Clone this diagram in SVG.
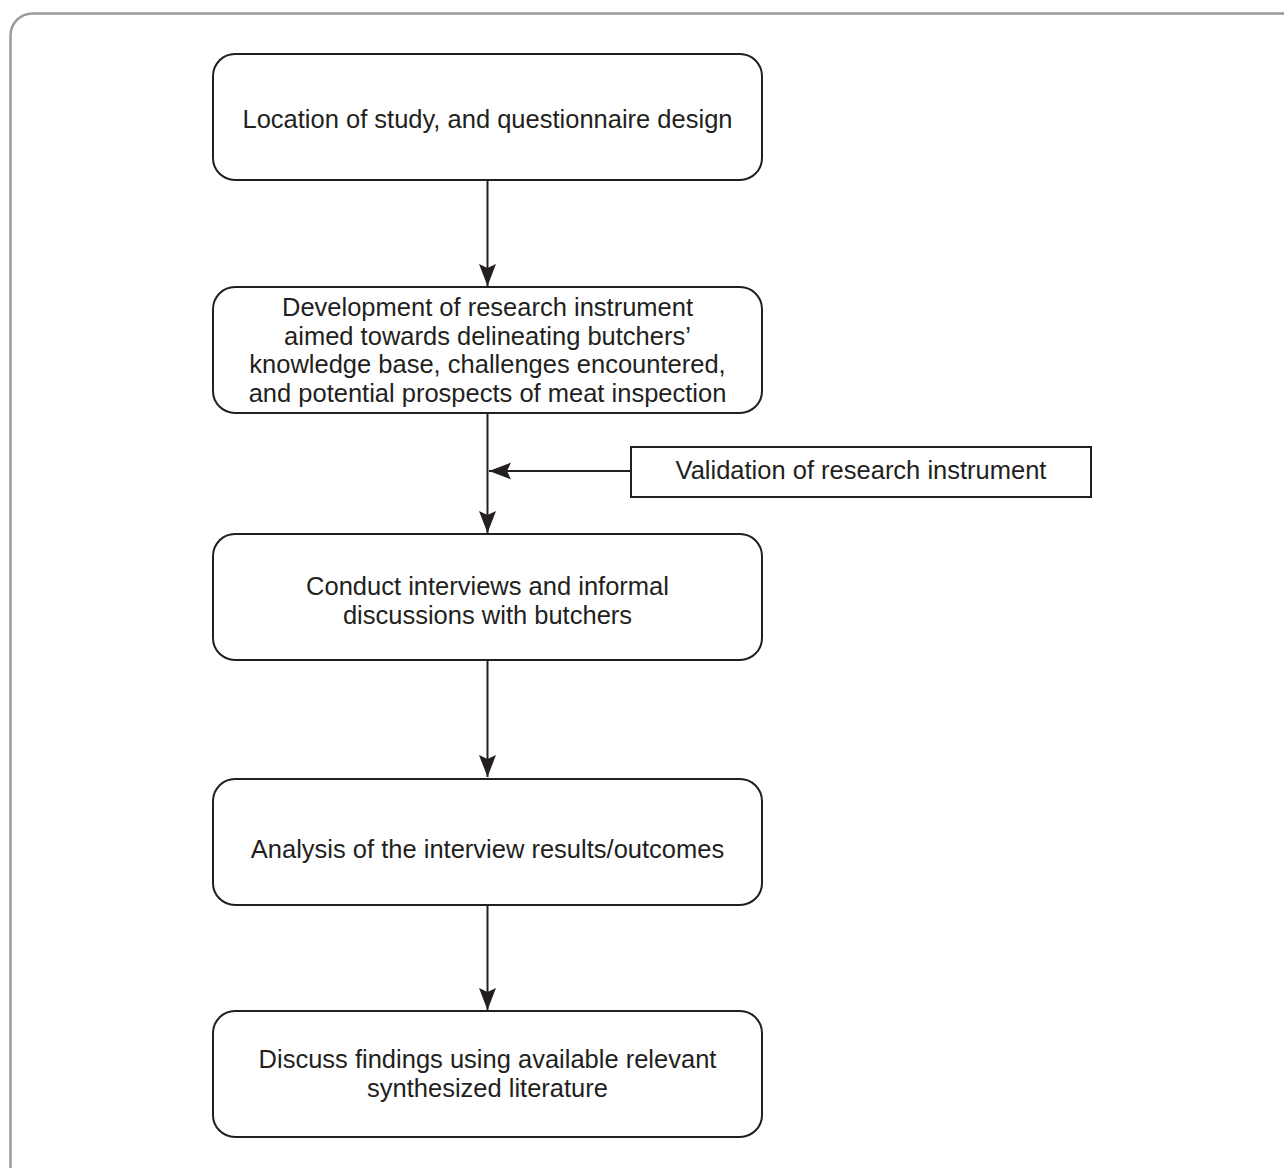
<svg xmlns="http://www.w3.org/2000/svg" width="1284" height="1168" viewBox="0 0 1284 1168">
<style>
.frame{fill:none;stroke:#9b9b9b;stroke-width:2.5}
.box{fill:#fff;stroke:#231f20;stroke-width:2}
.t{font-family:"Liberation Sans",Arial,sans-serif;font-size:25.5px;fill:#231f20;text-anchor:middle}
.c{fill:none;stroke:#231f20;stroke-width:2}
</style>
<defs>
<marker id="ah" markerUnits="userSpaceOnUse" markerWidth="26" markerHeight="22" viewBox="-24 -11 26 22" refX="0" refY="0" orient="auto">
<path d="M0,0 L-22,-8.5 L-18,0 L-22,8.5 Z" fill="#231f20"/>
</marker>
</defs>
<rect class="frame" x="10.5" y="13.5" width="1293" height="1175" rx="22"/>
<g id="connectors">
<line class="c" x1="487.5" y1="180" x2="487.5" y2="286" marker-end="url(#ah)"/>
<line class="c" x1="487.5" y1="413" x2="487.5" y2="533" marker-end="url(#ah)"/>
<line class="c" x1="631" y1="471" x2="489" y2="471" marker-end="url(#ah)"/>
<line class="c" x1="487.5" y1="660" x2="487.5" y2="777" marker-end="url(#ah)"/>
<line class="c" x1="487.5" y1="905" x2="487.5" y2="1010" marker-end="url(#ah)"/>
</g>
<g id="n1">
<rect class="box" x="213" y="54" width="549" height="126" rx="22"/>
<text class="t" x="487.5" y="128">Location of study, and questionnaire design</text>
</g>
<g id="n2">
<rect class="box" x="213" y="287" width="549" height="126" rx="22"/>
<text class="t"><tspan x="487.5" y="316">Development of research instrument</tspan><tspan x="487.5" y="344.7">aimed towards delineating butchers’</tspan><tspan x="487.5" y="373.4">knowledge base, challenges encountered,</tspan><tspan x="487.5" y="402.1">and potential prospects of meat inspection</tspan></text>
</g>
<g id="n3">
<rect class="box" x="631" y="447" width="460" height="50"/>
<text class="t" x="861" y="479">Validation of research instrument</text>
</g>
<g id="n4">
<rect class="box" x="213" y="534" width="549" height="126" rx="22"/>
<text class="t"><tspan x="487.5" y="595">Conduct interviews and informal</tspan><tspan x="487.5" y="624">discussions with butchers</tspan></text>
</g>
<g id="n5">
<rect class="box" x="213" y="779" width="549" height="126" rx="22"/>
<text class="t" x="487.5" y="858">Analysis of the interview results/outcomes</text>
</g>
<g id="n6">
<rect class="box" x="213" y="1011" width="549" height="126" rx="22"/>
<text class="t"><tspan x="487.5" y="1068">Discuss findings using available relevant</tspan><tspan x="487.5" y="1097">synthesized literature</tspan></text>
</g>
</svg>
